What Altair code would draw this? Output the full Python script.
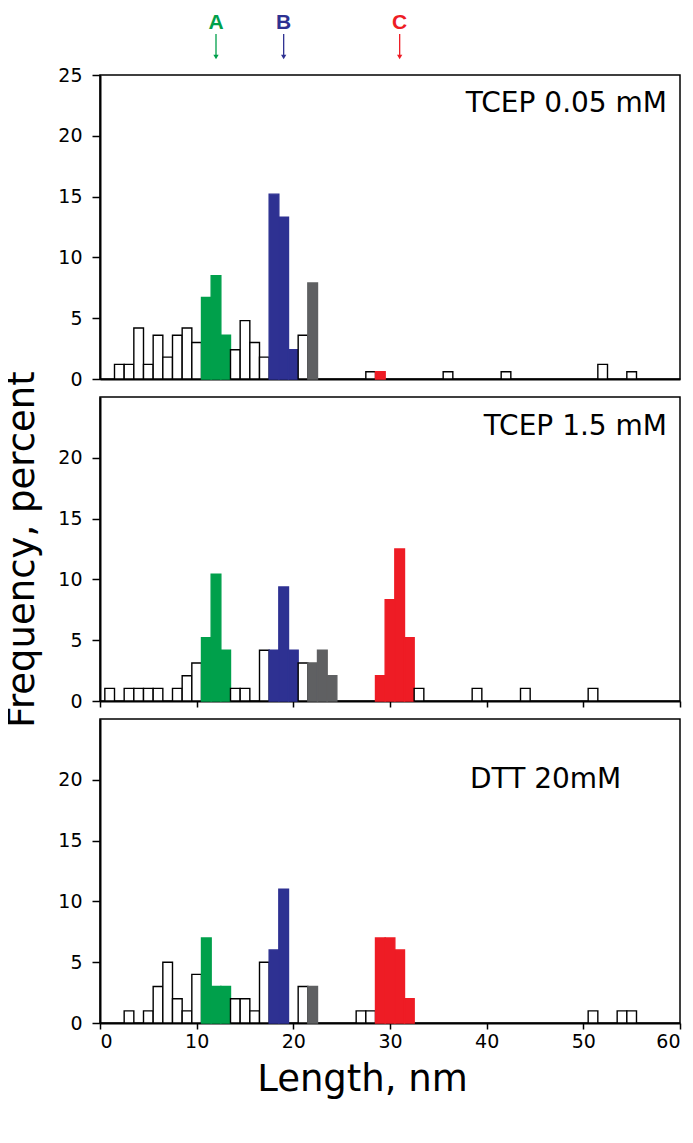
import altair as alt
import pandas as pd

FONT = "DejaVu Sans"

# ---- data (length bin centre in nm, frequency in percent, group) ----
p1_bins = [2, 3, 4, 5, 6, 7, 8, 9, 10, 11, 12, 13, 14, 15, 16, 17, 18, 19, 20, 21, 22, 28, 29, 36, 42, 52, 55]
p1_freq = [1.2, 1.2, 4.2, 1.2, 3.6, 1.8, 3.6, 4.2, 3.0, 6.7, 8.5, 3.6, 2.4, 4.8, 3.0, 1.8, 15.2, 13.3, 2.4, 3.6, 7.9, 0.6, 0.6, 0.6, 0.6, 1.2, 0.6]
p1_group = ["o", "o", "o", "o", "o", "o", "o", "o", "o", "A", "A", "A", "o", "o", "o", "o", "B", "B", "B", "o", "G", "o", "C", "o", "o", "o", "o"]

p2_bins = [1, 3, 4, 5, 6, 8, 9, 10, 11, 12, 13, 14, 15, 17, 18, 19, 20, 21, 22, 23, 24, 29, 30, 31, 32, 33, 39, 44, 51]
p2_freq = [1.04, 1.04, 1.04, 1.04, 1.04, 1.04, 2.08, 3.13, 5.21, 10.42, 4.17, 1.04, 1.04, 4.17, 4.17, 9.38, 4.17, 3.13, 3.13, 4.17, 2.08, 2.08, 8.33, 12.5, 5.21, 1.04, 1.04, 1.04, 1.04]
p2_group = ["o", "o", "o", "o", "o", "o", "o", "o", "A", "A", "A", "o", "o", "o", "B", "B", "B", "o", "G", "G", "G", "C", "C", "C", "C", "o", "o", "o", "o"]

p3_bins = [3, 5, 6, 7, 8, 9, 10, 11, 12, 13, 14, 15, 16, 17, 18, 19, 21, 22, 27, 28, 29, 30, 31, 32, 51, 54, 55]
p3_freq = [1.0, 1.0, 3.0, 5.0, 2.0, 1.0, 4.0, 7.0, 3.0, 3.0, 2.0, 2.0, 1.0, 5.0, 6.0, 11.0, 3.0, 3.0, 1.0, 1.0, 7.0, 7.0, 6.0, 2.0, 1.0, 1.0, 1.0]
p3_group = ["o", "o", "o", "o", "o", "o", "o", "A", "A", "A", "o", "o", "o", "o", "B", "B", "o", "G", "o", "o", "C", "C", "C", "C", "o", "o", "o"]

labels = ["TCEP 0.05 mM", "TCEP 1.5 mM", "DTT 20mM"]

peak_pos = [12, 19, 31]
peak_lab = ["A", "B", "C"]

x_ticks = [0, 10, 20, 30, 40, 50, 60]
y_ticks_top = [0, 5, 10, 15, 20, 25]
y_ticks = [0, 5, 10, 15, 20]

GROUPS = ["o", "A", "B", "G", "C"]
FILLS = ["#ffffff", "#00a04b", "#2e3192", "#5f6062", "#ee1c25"]
STROKES = ["#000000", "#00a04b", "#2e3192", "#5f6062", "#ee1c25"]

XS = alt.Scale(domain=[0, 60], nice=False, zero=False)
YS = alt.Scale(domain=[0, 25], nice=False)


def yaxis(vals, title=None, **kw):
    return alt.Axis(values=vals, title=title, ticks=True, tickSize=8, labelPadding=10,
                    labelFont=FONT, labelFontSize=19, labelColor="black",
                    domainColor="black", domainWidth=2, tickColor="black",
                    tickWidth=1.5, grid=False, labelBaseline="middle", **kw)


def panel(bins, freq, group, label, lx, ly, lalign, yvals, xaxis, yax):
    df = pd.DataFrame({"bin": bins, "freq": freq, "group": group})
    bars = alt.Chart(df).transform_calculate(
        x0="datum.bin - 0.5", x1="datum.bin + 0.5", base="0"
    ).mark_rect(strokeWidth=1.4).encode(
        x=alt.X("x0:Q", scale=XS, axis=xaxis),
        x2="x1:Q",
        y=alt.Y("freq:Q", scale=YS, axis=yax),
        y2="base:Q",
        fill=alt.Fill("group:N", scale=alt.Scale(domain=GROUPS, range=FILLS), legend=None),
        stroke=alt.Stroke("group:N", scale=alt.Scale(domain=GROUPS, range=STROKES), legend=None),
    )
    txt = alt.Chart(pd.DataFrame({"t": [label]})).mark_text(
        font=FONT, fontSize=28, align=lalign, baseline="middle", color="black"
    ).encode(text="t:N", x=alt.value(lx), y=alt.value(ly))
    return [bars, txt]


ax1 = alt.Axis(labels=False, ticks=False, title=None, domainColor="black", domainWidth=2, grid=False)
ax2 = alt.Axis(values=x_ticks, labels=False, ticks=True, tickSize=6, tickColor="black", tickWidth=1.5,
               title=None, domainColor="black", domainWidth=2, grid=False)
ax3 = alt.Axis(values=x_ticks, labels=True, ticks=True, tickSize=6, tickColor="black", tickWidth=1.5,
               labelFont=FONT, labelFontSize=19, labelColor="black", labelPadding=3,
               title="Length, nm", titleFont=FONT, titleFontSize=37, titleFontWeight="normal",
               titleColor="black", titleX=262, titleY=67, titleAlign="center",
               titleBaseline="alphabetic", domainColor="black", domainWidth=2, grid=False)

l1 = panel(p1_bins, p1_freq, p1_group, labels[0], 567, 29, "right", y_ticks_top, ax1, yaxis(y_ticks_top))
l2 = panel(p2_bins, p2_freq, p2_group, labels[1], 567, 30, "right", y_ticks, ax2,
           yaxis(y_ticks, title="Frequency, percent", titleFont=FONT, titleFontSize=37,
                 titleFontWeight="normal", titleColor="black", titleX=-67, titleY=152,
                 titleAngle=270, titleAlign="center", titleBaseline="alphabetic"))
l3 = panel(p3_bins, p3_freq, p3_group, labels[2], 370, 61, "left", y_ticks, ax3, yaxis(y_ticks))

# peak markers above first panel
pk = pd.DataFrame({"pos": peak_pos, "lab": peak_lab})
pcol = alt.Color("lab:N", scale=alt.Scale(domain=["A", "B", "C"], range=["#00a04b", "#2e3192", "#ee1c25"]), legend=None)
pk_rule = alt.Chart(pk).mark_rule(strokeWidth=1.3).encode(
    x=alt.X("pos:Q", scale=XS, title=None), y=alt.value(-41), y2=alt.value(-20), color=pcol)
pk_head = alt.Chart(pk).mark_point(shape="triangle-down", filled=True, size=28, opacity=1).encode(
    x=alt.X("pos:Q", scale=XS, title=None), y=alt.value(-18), color=pcol)
pk_text = alt.Chart(pk).mark_text(font="Liberation Sans", fontSize=21, fontWeight="bold", baseline="middle").encode(
    x=alt.X("pos:Q", scale=XS, title=None), y=alt.value(-52), text="lab:N", color=pcol)

c1 = alt.layer(*l1, pk_rule, pk_head, pk_text).properties(width=580, height=304)
c2 = alt.layer(*l2).properties(width=580, height=304)
c3 = alt.layer(*l3).properties(width=580, height=304)

chart = alt.vconcat(c1, c2, c3, spacing=18, bounds="flush").resolve_scale(
    fill="independent", stroke="independent", color="independent"
).properties(
    padding={"left": -6, "top": 3, "right": 0, "bottom": 5}
).configure_view(stroke="black", strokeWidth=1.5)

chart.save("out.html", embed_options={"renderer": "svg", "actions": False})
